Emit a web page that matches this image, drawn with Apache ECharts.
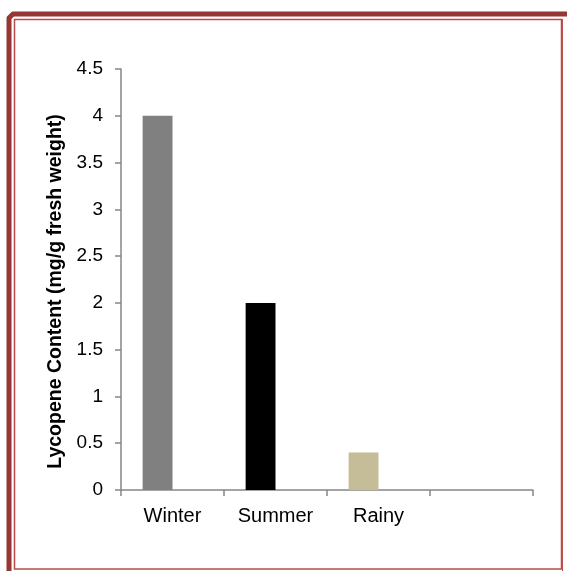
<!DOCTYPE html>
<html><head><meta charset="utf-8">
<script src="https://cdn.jsdelivr.net/npm/echarts@6/dist/echarts.min.js"></script>
<style>html,body{margin:0;padding:0;background:#fff}#c{width:567px;height:571px}</style>
</head><body><div id="c"></div>
<script>
const categories = ['Winter', 'Summer', 'Rainy', ''];
const lycopene = [4.0, 2.0, 0.4, null];
const yTicks = { min: 0, max: 4.5, interval: 0.5 };
const barColors = ['#808080', '#000000', '#c4bd97'];

const chart = echarts.init(document.getElementById('c'), null, { renderer: 'canvas' });
const axisGray = '#868686';
chart.setOption({
  animation: false,
  backgroundColor: '#fff',
  grid: { left: 121, right: 34, top: 69, bottom: 81, containLabel: false },
  xAxis: {
    type: 'category', data: categories,
    axisLine: { lineStyle: { color: axisGray, width: 1.5 } },
    axisTick: { show: true, alignWithLabel: false, length: 6, lineStyle: { color: axisGray, width: 1.5 } },
    axisLabel: { color: '#000', fontFamily: 'Liberation Sans, Arial', fontSize: 20, margin: 16 },
    splitLine: { show: false }
  },
  yAxis: {
    type: 'value', min: yTicks.min, max: yTicks.max, interval: yTicks.interval,
    name: 'Lycopene Content (mg/g fresh weight)', nameLocation: 'middle', nameGap: 52,
    nameTextStyle: { color: '#000', fontFamily: 'Liberation Sans, Arial', fontSize: 19.5, fontWeight: 'bold', padding: [0, 24, 0, 0] },
    axisLine: { show: true, lineStyle: { color: axisGray, width: 1.5 } },
    axisTick: { show: true, length: 6, lineStyle: { color: axisGray, width: 1.5 } },
    axisLabel: { color: '#000', fontFamily: 'Liberation Sans, Arial', fontSize: 19, margin: 18 },
    splitLine: { show: false }
  },
  series: [
    {
      type: 'bar', data: lycopene.map((v, i) => v == null ? null : { value: v, itemStyle: { color: barColors[i] } }),
      barGap: '0%', barCategoryGap: '42%'
    },
    { type: 'bar', data: categories.map(() => null), barGap: '0%', barCategoryGap: '42%' }
  ],
  graphic: [
    { type: 'polyline', shape: { points: [[9, 571], [9, 18], [13, 14], [567, 14]] }, style: { stroke: '#953735', lineWidth: 5, fill: null, lineJoin: 'round' }, z: 100 },
    { type: 'rect', shape: { x: 14.5, y: 19.5, width: 547, height: 549.5 }, style: { stroke: '#b84c4a', lineWidth: 1.5, fill: null }, z: 100 },
    { type: 'line', shape: { x1: 562.5, y1: 19, x2: 562.5, y2: 571 }, style: { stroke: '#c0504d', lineWidth: 1 }, z: 100 }
  ]
});
</script></body></html>
